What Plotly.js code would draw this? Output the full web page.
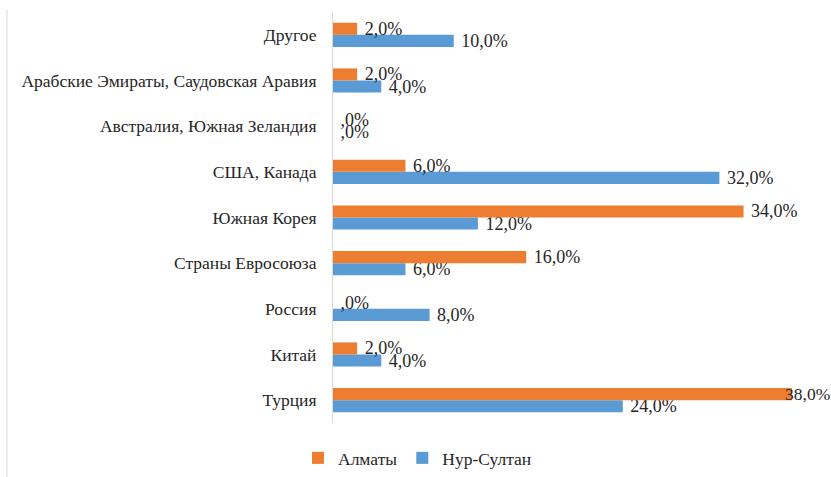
<!DOCTYPE html>
<html>
<head>
<meta charset="utf-8">
<script src="https://cdn.plot.ly/plotly-3.0.1.min.js"></script>
<style>
html,body{margin:0;padding:0;background:#fff;}
#chart{width:831px;height:477px;}
</style>
</head>
<body>
<div id="chart"></div>
<script>
const categories = ['Турция','Китай','Россия','Страны Евросоюза','Южная Корея','США, Канада','Австралия, Южная Зеландия','Арабские Эмираты, Саудовская Аравия','Другое'];
const almaty = [38, 2, 0, 16, 34, 6, 0, 2, 2];
const nursultan = [24, 4, 8, 6, 12, 32, 0, 4, 10];
const seriesNames = ['Алматы', 'Нур-Султан'];

const xMax = 40;
function fmt(v){ return (v === 0 ? ',0%' : v.toFixed(1).replace('.', ',') + '%'); }
// labels near the right edge are pulled inward (as in the original) via annotations
function isEdge(v){ return v > xMax - 3; }

const serif = 'Liberation Serif, Times New Roman, serif';
const textFont = {family: serif, size: 18, color: '#262626'};

const traces = [
  {
    type: 'bar', orientation: 'h', name: seriesNames[1],
    y: categories, x: nursultan,
    marker: {color: '#5B9BD5'},
    text: nursultan.map(v => isEdge(v) ? '' : '\u00a0' + fmt(v)), textposition: 'outside', cliponaxis: false, constraintext: 'none',
    textfont: textFont, hoverinfo: 'skip'
  },
  {
    type: 'bar', orientation: 'h', name: seriesNames[0],
    y: categories, x: almaty,
    marker: {color: '#ED7D31'},
    text: almaty.map(v => isEdge(v) ? '' : '\u00a0' + fmt(v)), textposition: 'outside', cliponaxis: false, constraintext: 'none',
    textfont: textFont, hoverinfo: 'skip'
  }
];

const annotations = [];
almaty.forEach((v, i) => { if (isEdge(v)) annotations.push({x: v, y: categories[i], xref: 'x', yref: 'y', text: fmt(v), showarrow: false,
  xanchor: 'left', xshift: -9, yshift: 6, font: {family: serif, size: 17.5, color: '#262626'}}); });
nursultan.forEach((v, i) => { if (isEdge(v)) annotations.push({x: v, y: categories[i], xref: 'x', yref: 'y', text: fmt(v), showarrow: false,
  xanchor: 'left', xshift: -9, yshift: -6, font: {family: serif, size: 17.5, color: '#262626'}}); });

const layout = {
  width: 831, height: 477,
  margin: {l: 333, r: 15, t: 12, b: 54},
  paper_bgcolor: '#fff', plot_bgcolor: '#fff',
  barmode: 'group', bargap: 0.47, bargroupgap: 0,
  font: {family: serif, size: 17.5, color: '#262626'},
  xaxis: {range: [0, xMax], showgrid: false, zeroline: false, showticklabels: false, showline: false, fixedrange: true},
  yaxis: {type: 'category', showgrid: false, zeroline: false, showline: true, linecolor: '#d9d9d9', linewidth: 1,
          ticks: '', ticklabelstandoff: 12, tickfont: {family: serif, size: 17.5, color: '#262626'}, fixedrange: true},
  showlegend: true,
  legend: {orientation: 'h', traceorder: 'reversed', xref: 'container', yref: 'container',
           x: 298/831, xanchor: 'left', y: 19/477, yanchor: 'middle',
           font: {family: serif, size: 17.5, color: '#262626'}, itemwidth: 30},
  annotations: annotations,
  shapes: [{type: 'line', xref: 'paper', yref: 'paper', x0: -0.675, x1: -0.675, y0: -0.2, y1: 1.005,
            line: {color: '#d9d9d9', width: 1}}]
};

Plotly.newPlot('chart', traces, layout, {displayModeBar: false, staticPlot: true});
</script>
</body>
</html>
